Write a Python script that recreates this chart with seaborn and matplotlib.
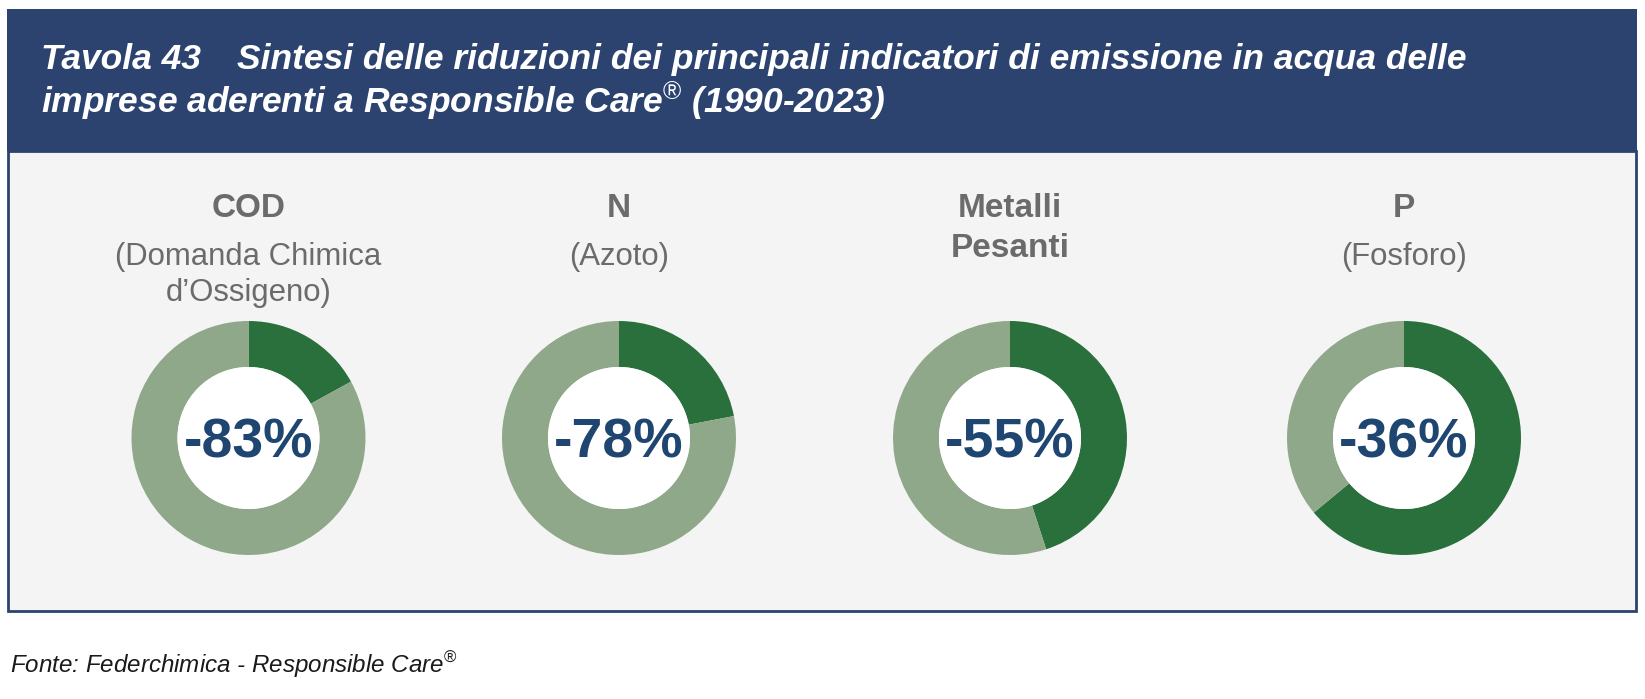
import matplotlib
matplotlib.use("Agg")
import matplotlib.pyplot as plt
from matplotlib.patches import Rectangle, Circle
import seaborn as sns

# ---- data ----
categories = ["COD", "N", "Metalli\nPesanti", "P"]
subtitles = [["(Domanda Chimica", "d\u2019Ossigeno)"], ["(Azoto)"], [], ["(Fosforo)"]]
reductions = [83, 78, 55, 36]          # % reduction 1990-2023
remaining = [100 - r for r in reductions]
value_labels = ["-83%", "-78%", "-55%", "-36%"]

title_num = "Tavola 43"
title_l1 = "Sintesi delle riduzioni dei principali indicatori di emissione in acqua delle"
title_l2 = "imprese aderenti a Responsible Care$^{\u00ae}$ (1990-2023)"
footer = "Fonte: Federchimica - Responsible Care$^{\u00ae}$"

sns.set_theme(style="white")
plt.rcParams['font.family'] = ['Liberation Sans', 'DejaVu Sans']
plt.rcParams['mathtext.fontset'] = 'custom'
plt.rcParams['mathtext.rm'] = 'Liberation Sans'
plt.rcParams['mathtext.it'] = 'Liberation Sans:italic'
plt.rcParams['mathtext.bf'] = 'Liberation Sans:bold'

NAVY = "#2c4370"
PANEL = "#f4f4f4"
DARK_G = "#2a703d"
LIGHT_G = "#8fa88a"
GRAY_T = "#6b6b6b"
PCT = "#1f4571"

W, H = 1645, 699
fig = plt.figure(figsize=(W / 100, H / 100), dpi=100, facecolor="white")
bg = fig.add_axes([0, 0, 1, 1])
bg.set_xlim(0, W)
bg.set_ylim(H, 0)
bg.axis("off")

bg.add_patch(Rectangle((7, 9), 1630, 142, facecolor=NAVY, edgecolor="none"))
bg.add_patch(Rectangle((8, 151), 1628, 460, facecolor=PANEL, edgecolor=NAVY, lw=2))

title_kw = dict(color="white", fontsize=25.5, fontstyle="italic", fontweight="bold", va="baseline")
bg.text(41, 69, title_num, **title_kw)
bg.text(237, 69, title_l1, **title_kw)
bg.text(41, 113, title_l2, **title_kw)

bg.text(10, 673, footer, color="#1a1a1a", fontsize=17.4, fontstyle="italic", va="baseline")

centers_x = [248.5, 619, 1010, 1404]
cy, r = 438, 117

for i, cx in enumerate(centers_x):
    head_lines = categories[i].split("\n")
    y = 217
    for ln in head_lines:
        bg.text(cx, y, ln, color=GRAY_T, fontsize=24, fontweight="bold", ha="center", va="baseline")
        y += 40
    y = 265
    for ln in subtitles[i]:
        bg.text(cx, y, ln, color=GRAY_T, fontsize=22.4, ha="center", va="baseline")
        y += 36

    ax = fig.add_axes([(cx - r) / W, (H - cy - r) / H, 2 * r / W, 2 * r / H])
    ax.pie([remaining[i], reductions[i]], colors=[DARK_G, LIGHT_G], startangle=90,
           counterclock=False, radius=1,
           wedgeprops=dict(width=0.393, linewidth=0, antialiased=True))
    ax.add_patch(Circle((0, 0), 0.607, facecolor="white", edgecolor="none"))
    ax.set_xlim(-1, 1)
    ax.set_ylim(-1, 1)
    ax.set_aspect("equal")
    ax.axis("off")
    ax.text(0, 0, value_labels[i], color=PCT, fontsize=40, fontweight="bold",
            ha="center", va="center_baseline")

fig.savefig("out.png", dpi=100, facecolor="white")
